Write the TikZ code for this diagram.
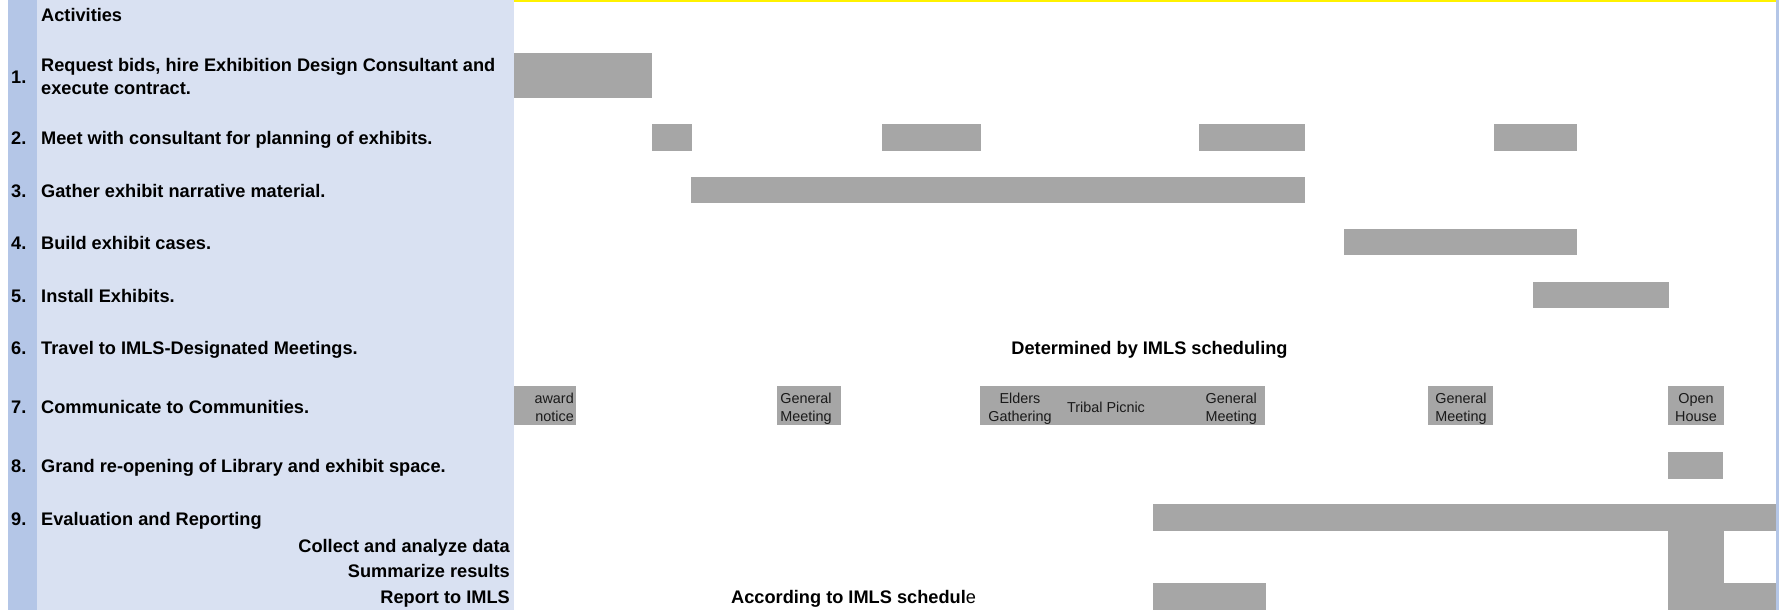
\documentclass[tikz,border=0pt]{standalone}
\usepackage{fontspec}
\setmainfont{Liberation Sans}
\definecolor{barcol}{HTML}{A6A6A6}
\definecolor{panelcol}{HTML}{D9E1F2}
\definecolor{stripcol}{HTML}{B4C6E7}
\definecolor{smalltext}{HTML}{1A1A1A}
\tikzset{
  bigtext/.style={inner sep=0pt, font=\fontsize{18.2}{22}\selectfont\bfseries},
  rowtext/.style={bigtext, anchor=base west},
  subtext/.style={bigtext, anchor=base east},
  smalllbl/.style={inner sep=0pt, text=smalltext, font=\fontsize{14.4}{18}\selectfont},
  ganttbar/.style={fill=barcol}
}
\begin{document}
\begin{tikzpicture}[x=1pt,y=-1pt]
\useasboundingbox (0,0) rectangle (1779,610);
\fill[white] (0,0) rectangle (1779,610);
% left panel
\fill[panelcol] (8,0) rectangle (514,610);
\fill[stripcol] (8,0) rectangle (37,610);
% top yellow line and right blue edge
\fill[yellow] (514,0) rectangle (1776,2);
\fill[stripcol] (1776,0) rectangle (1779,610);

% bars
\fill[ganttbar] (514,53) rectangle (652,98);
\fill[ganttbar] (652,124) rectangle (692,151);
\fill[ganttbar] (882,124) rectangle (981,151);
\fill[ganttbar] (1199,124) rectangle (1305,151);
\fill[ganttbar] (1494,124) rectangle (1577,151);
\fill[ganttbar] (691,177) rectangle (1305,203);
\fill[ganttbar] (1344,229) rectangle (1577,255);
\fill[ganttbar] (1533,282) rectangle (1669,308);
\fill[ganttbar] (514,386) rectangle (576,425);
\fill[ganttbar] (777,386) rectangle (841,425);
\fill[ganttbar] (980,386) rectangle (1265,425);
\fill[ganttbar] (1428,386) rectangle (1493,425);
\fill[ganttbar] (1668,386) rectangle (1724,425);
\fill[ganttbar] (1668,452) rectangle (1723,479);
\fill[ganttbar] (1153,504) rectangle (1776,531);
\fill[ganttbar] (1668,531) rectangle (1724,610);
\fill[ganttbar] (1724,583) rectangle (1776,610);
\fill[ganttbar] (1153,583) rectangle (1266,610);

% left column texts
\node[rowtext] (hdr) at (41,22) {Activities};
\node[rowtext] (n1) at (11,84) {1.};
\node[rowtext] (t1a) at (41,71) {Request bids, hire Exhibition Design Consultant and};
\node[rowtext] (t1b) at (41,94) {execute contract.};
\node[rowtext] (n2) at (11,144.5) {2.};
\node[rowtext] (t2) at (41,144.5) {Meet with consultant for planning of exhibits.};
\node[rowtext] (n3) at (11,197) {3.};
\node[rowtext] (t3) at (41,197) {Gather exhibit narrative material.};
\node[rowtext] (n4) at (11,249) {4.};
\node[rowtext] (t4) at (41,249) {Build exhibit cases.};
\node[rowtext] (n5) at (11,302) {5.};
\node[rowtext] (t5) at (41,302) {Install Exhibits.};
\node[rowtext] (n6) at (11,354.5) {6.};
\node[rowtext] (t6) at (41,354.5) {Travel to IMLS-Designated Meetings.};
\node[rowtext] (n7) at (11,413.5) {7.};
\node[rowtext] (t7) at (41,413.5) {Communicate to Communities.};
\node[rowtext] (n8) at (11,472) {8.};
\node[rowtext] (t8) at (41,472) {Grand re-opening of Library and exhibit space.};
\node[rowtext] (n9) at (11,525) {9.};
\node[rowtext] (t9) at (41,525) {Evaluation and Reporting};
\node[subtext] (s1) at (510,552.5) {Collect and analyze data};
\node[subtext] (s2) at (510,577.5) {Summarize results};
\node[subtext] (s3) at (510,603.5) {Report to IMLS};

% chart texts
\node[bigtext, anchor=base] (det) at (1149.5,354) {Determined by IMLS scheduling};
\node[rowtext] (acc) at (731,603) {According to IMLS schedul\mdseries e};

% row 7 labels
\node[smalllbl, anchor=base east] (aw1) at (574,403) {award};
\node[smalllbl, anchor=base east] (aw2) at (574,421) {notice};
\node[smalllbl, anchor=base] (gm1a) at (806,403) {General};
\node[smalllbl, anchor=base] (gm1b) at (806,421) {Meeting};
\node[smalllbl, anchor=base] (el1) at (1020,403) {Elders};
\node[smalllbl, anchor=base] (el2) at (1020,421) {Gathering};
\node[smalllbl, anchor=base] (tp) at (1106,412) {Tribal Picnic};
\node[smalllbl, anchor=base east] (gm2a) at (1257,403) {General};
\node[smalllbl, anchor=base east] (gm2b) at (1257,421) {Meeting};
\node[smalllbl, anchor=base] (gm3a) at (1461,403) {General};
\node[smalllbl, anchor=base] (gm3b) at (1461,421) {Meeting};
\node[smalllbl, anchor=base] (oh1) at (1696,403) {Open};
\node[smalllbl, anchor=base] (oh2) at (1696,421) {House};
\end{tikzpicture}
\end{document}
